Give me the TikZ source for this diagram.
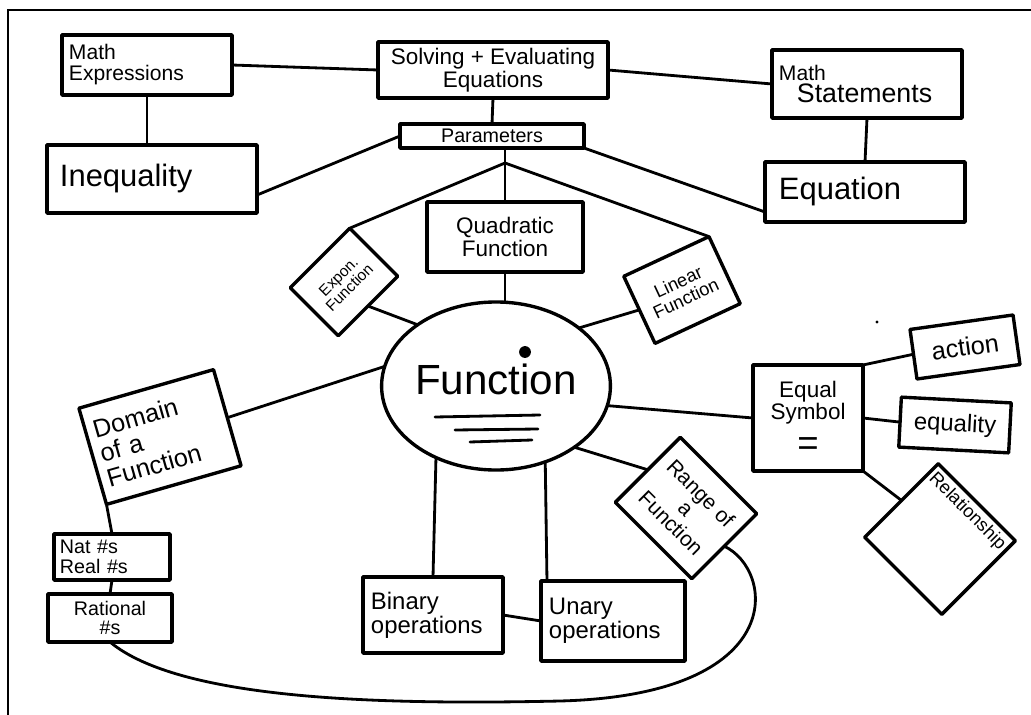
\documentclass[tikz,border=0pt]{standalone}
\usepackage{fontspec}
\setmainfont{Liberation Sans}
\usetikzlibrary{shapes.geometric}
\newcommand{\fs}[1]{\fontsize{#1}{#1}\selectfont}

\begin{document}
\begin{tikzpicture}[
  x=0.025cm,y=-0.025cm,
  every node/.style={inner sep=0pt,outer sep=0pt},
  box/.style={draw,line width=2.4pt,line join=round,align=center,inner sep=3pt},
  lbox/.style={box,align=left},
  link/.style={line width=2pt,line cap=round},
  frm/.style={line width=1.2pt},
]
\useasboundingbox (0,0) rectangle (1031,715);
\draw[frm] (8,715) -- (8,10) -- (1031,10);

\node[lbox,minimum width=4.25cm,minimum height=1.5cm,text width=3.9cm,
  font=\fs{15}](MathExp) at(147,65){Math\\Expressions};
\node[box,minimum width=5.75cm,minimum height=1.4cm,font=\fs{16}](Solving)
  at(493,70){Solving + Evaluating\\Equations};
\node[lbox,minimum width=4.75cm,minimum height=1.7cm,text width=4.4cm,
  font=\fs{15}](MathStat) at(867,84){Math\\\hspace{0.45cm}{\fs{19}Statements}};
\node[box,minimum width=4.6cm,minimum height=0.6cm,inner sep=0pt,font=\fs{14}](Params)
  at(492,136){Parameters};
\node[lbox,minimum width=5.25cm,minimum height=1.7cm,text width=4.6cm,
  font=\fs{22}](Ineq) at(152,179){Inequality};
\node[lbox,minimum width=5cm,minimum height=1.5cm,text width=4.3cm,
  font=\fs{22}](Equation) at(865,192){Equation};

\node[box,minimum width=3.9cm,minimum height=1.75cm,font=\fs{16}](Quad)
  at(505,237){Quadratic\\Function};
\node[box,rotate=45,minimum width=2.1cm,minimum height=1.7cm,font=\fs{11}](Expon)
  at(344,282){Expon.\\Function};
\node[box,rotate=25,minimum width=2.35cm,minimum height=1.85cm,font=\fs{13}](Linear)
  at(682,290){Linear\\Function};

\node[draw,ellipse,line width=2.4pt,minimum width=5.2cm,minimum height=4.2cm,
  font=\fs{30}](Function) at(496,386){\raisebox{0.35cm}{Function}};
\fill (525,352) circle (4.2pt);
\draw[link] (435,417) -- (540,415);
\draw[link] (455,430) -- (538,429);
\draw[link] (470,442) -- (532,440);

\node[lbox,rotate=16,minimum width=3.5cm,minimum height=2.5cm,text width=3.1cm,
  font=\fs{18}](Domain) at(160,437){Domain\\of a\\Function};
\node[lbox,minimum width=2.9cm,minimum height=1.15cm,text width=2.6cm,
  font=\fs{14}](NatNum) at(112,557){Nat \#s\\Real \#s};
\node[box,minimum width=3.1cm,minimum height=1.2cm,font=\fs{14}](Rational)
  at(110,618){Rational\\\#s};

\node[lbox,minimum width=3.5cm,minimum height=1.9cm,text width=3.1cm,
  font=\fs{17}](Binary) at(433,615){Binary\\operations};
\node[lbox,minimum width=3.6cm,minimum height=2cm,text width=3.2cm,
  font=\fs{17}](Unary) at(613,621){Unary\\operations};
\node[box,rotate=-45,minimum width=2.7cm,minimum height=2.3cm,font=\fs{15}](Range)
  at(686,508){Range of\\a\\Function};

\node[box,minimum width=2.75cm,minimum height=2.65cm,font=\fs{16}](EqSym)
  at(808,418){Equal\\Symbol\\[8pt]{\fs{26}=}};
\node[box,rotate=8,minimum width=2.6cm,minimum height=1.25cm,font=\fs{18}](Action)
  at(965,347){action};
\node[box,rotate=-3,minimum width=2.75cm,minimum height=1.25cm,font=\fs{17}](Equality)
  at(955,425){equality};
\node[box,rotate=-45,minimum width=2.7cm,text height=10pt,text depth=58pt,
  font=\fs{13}](Relation) at(940,539){Relationship};
\fill (877,322) circle (1.2pt);

\coordinate (ParSplit) at(505,163);
\coordinate (LoopBot) at(560,701);

\draw[link] (MathExp.east) -- (Solving.west);
\draw[link] (Solving.east) -- (MathStat.west);
\draw[link] (MathExp.south) -- (MathExp.south |- Ineq.north);
\draw[link] (MathStat.south) -- (Equation.north);
\draw[link] (Solving.south) -- (Params.north);
\draw[link] (Params.west) -- ([yshift=-0.4cm]Ineq.east);
\draw[link] (Params.south east) -- ([yshift=-0.5cm]Equation.west);
\draw[link] (ParSplit |- Params.south) -- (ParSplit |- Quad.north);
\draw[link] (ParSplit) -- (Expon.north east);
\draw[link] (ParSplit) -- (Linear.north east);

\draw[link] (Quad.south) -- (Quad.south |- Function.north);
\draw[link] (Expon.south) -- (Function.142);
\draw[link] (Linear.west) -- (Function.35);
\draw[link] (Domain.east) -- (Function.170);
\draw[link] (Function.-10) -- (EqSym.west);
\draw[link] (Function.-38) -- (Range.west);
\draw[link] (Function.-130) -- (Binary.north);
\draw[link] (Function.-57) -- ([xshift=0.15cm]Unary.north west);
\draw[link] (Binary.east) -- (Unary.west);

\draw[link] (Domain.south west) -- (NatNum.north);
\draw[link] (NatNum.south) -- (Rational.north);
\draw[link] (Rational.south) .. controls (180,700) and (380,705) .. (LoopBot)
  .. controls (790,695) and (775,570) .. (Range.east);

\draw[link] (EqSym.north east) -- (Action.west);
\draw[link] (EqSym.east) -- (Equality.west);
\draw[link] (EqSym.south east) -- (Relation.west);
\end{tikzpicture}
\end{document}
